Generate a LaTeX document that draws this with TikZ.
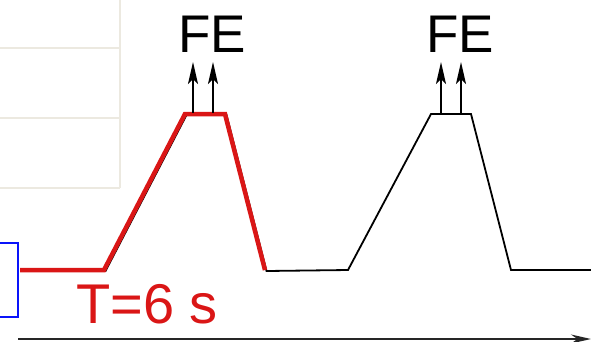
\documentclass[tikz,border=0pt]{standalone}
\usepackage{fontspec}
\setmainfont{Liberation Sans}
\usetikzlibrary{arrows.meta}
\definecolor{pulsered}{RGB}{218,22,22}
\definecolor{gridbeige}{RGB}{236,233,224}
\definecolor{boxblue}{RGB}{10,20,250}

\begin{document}
\begin{tikzpicture}[x=1pt,y=-1pt,
  bigtext/.style={font=\fontsize{53}{58}\selectfont, inner sep=0pt},
  cellline/.style={draw=gridbeige, line width=1.8pt},
  trace/.style={draw=black, line width=1.8pt},
  hot/.style={draw=pulsered, line width=4.5pt},
  lift/.style={draw=black, line width=1.8pt, -{Stealth[length=22pt,width=10pt,inset=5pt]}},
  timeaxis/.style={draw=black!85, line width=1.8pt, -{Stealth[length=20pt,width=9pt]}}
]
\useasboundingbox (0,0) rectangle (591,341);
% table lines at top left
\draw[cellline] (120,0) -- (120,188);
\foreach \y in {48,118,188} {
  \draw[cellline] (0,\y) -- (120,\y);
}
% blue box at left edge
\draw[draw=boxblue, line width=1.8pt] (-5,243) rectangle (18,317);
% waveform corners
\coordinate (s) at (20,270);
\coordinate (a1) at (104,270);
\coordinate (t1) at (185,114);
\coordinate (u1) at (225,114);
\coordinate (b1) at (265,270);
\coordinate (a2) at (348,270);
\coordinate (t2) at (431,114);
\coordinate (u2) at (471,114);
\coordinate (b2) at (511,270);
\coordinate (e) at (591,270);
\draw[trace] ([shift={(1.5,1)}]s) -- ([shift={(1.5,1)}]a1) -- ([shift={(1.5,1)}]t1) -- ([shift={(1.5,1)}]u1) -- ([shift={(1.5,1)}]b1)
  -- (a2) -- (t2) -- (u2) -- (b2) -- (e);
\draw[hot] (s) -- (a1) -- (t1) -- (u1) -- (b1);
% labels
\node[bigtext, anchor=base] (fe1) at (212,52) {FE};
\node[bigtext, anchor=base] (fe2) at (460,52) {FE};
\node[bigtext, font=\fontsize{56}{60}\selectfont, text=pulsered, anchor=base west] (period) at (76,323) {T=6 s};
% field emission arrows
\foreach \x in {193,213,441,461} {
  \coordinate (fo\x) at (\x,113);
  \coordinate (fi\x) at (\x,62);
  \draw[lift] (fo\x) -- (fi\x);
}
% time axis
\coordinate (ax0) at (18,339);
\coordinate (ax1) at (591,339);
\draw[timeaxis] (ax0) -- (ax1);
\end{tikzpicture}
\end{document}
